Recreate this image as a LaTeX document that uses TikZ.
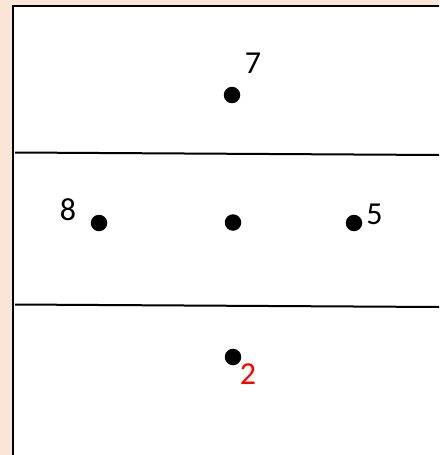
\documentclass[tikz,border=0pt]{standalone}
\usepackage{fontspec}
\setmainfont{Carlito}
\usepackage{tikz}

\definecolor{peach}{HTML}{FBE5D6}
\definecolor{numred}{HTML}{FF0000}

\tikzset{
    dot/.style={circle, fill=black, inner sep=0pt, minimum size=16.5pt},
    num/.style={inner sep=0pt, font=\fontsize{32}{36}\selectfont}
}

\begin{document}
\begin{tikzpicture}[x=1pt, y=-1pt]
\useasboundingbox (0,0) rectangle (439,455);
\clip (0,0) rectangle (439,455);
\fill[peach] (0,0) rectangle (439,455);
\draw[fill=white, line width=1.6pt] (12.8,5.8) rectangle (450,470);

% bands
\coordinate (a1) at (15,152.5);
\coordinate (a2) at (439,155);
\coordinate (b1) at (15,304.5);
\coordinate (b2) at (439,307);
\draw[line width=2pt] (a1) -- (a2);
\draw[line width=2pt] (b1) -- (b2);

% points
\node[dot] (p7) at (232,95) {};
\node[dot] (p8) at (99,223) {};
\node[dot] (pc) at (233,222.5) {};
\node[dot] (p5) at (354,223) {};
\node[dot] (p2) at (233,357) {};

% numbers
\node[num] (n7) at (253,63) {7};
\node[num] (n8) at (68,210) {8};
\node[num] (n5) at (374.5,214.5) {5};
\node[num, text=numred] (n2) at (248,374) {2};
\end{tikzpicture}
\end{document}
